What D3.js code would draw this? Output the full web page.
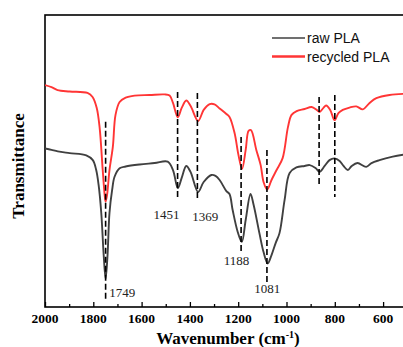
<!DOCTYPE html>
<html>
<head>
<meta charset="utf-8">
<script src="https://cdn.jsdelivr.net/npm/d3@7"></script>
<style>
    body { margin: 0; background: #fff; }
    svg { display: block; }
</style>
</head>
<body>
<div id="chart"></div>
<script>
// raw PLA spectrum (wavenumber, transmittance a.u.)
const rawWn = [2000, 1973, 1947, 1898, 1829, 1802, 1788, 1778, 1767, 1757, 1749, 1741, 1733, 1722, 1712, 1691,
    1666, 1608, 1546, 1492, 1470, 1450, 1434, 1415, 1397, 1366, 1343, 1311, 1294, 1277, 1249, 1236, 1223, 1202,
    1185, 1169, 1149, 1136, 1112, 1095, 1078, 1062, 1045, 1029, 1008, 987, 959, 925, 904, 880, 863, 842, 822,
    801, 780, 764, 746, 730, 706, 670, 648, 615, 560, 515];
const rawT = [54.3, 53.8, 53.3, 52.7, 51.9, 50.3, 46.9, 41.8, 32.2, 17.8, 9.6, 17.8, 32.2, 40.1, 44.6, 47.5,
    48.1, 48.8, 49.3, 49.8, 46.9, 40.7, 44.2, 48.3, 46.2, 39.4, 42.8, 45.2, 44.9, 43.5, 39.7, 38.7, 33.2, 25.7,
    22.3, 29.8, 38.7, 34.9, 25.2, 18.8, 14.9, 17.8, 21.9, 25.3, 36.6, 45.9, 47.8, 48.3, 48.6, 47.6, 46.3, 48.3, 50.3,
    50.9, 50.0, 48.3, 46.9, 48.3, 49.3, 48.0, 49.3, 50.3, 51.5, 52.2];

// recycled PLA spectrum
const recWn = [2000, 1973, 1948, 1898, 1824, 1803, 1786, 1774, 1761, 1753, 1749, 1743, 1733, 1719, 1708, 1691,
    1666, 1629, 1567, 1505, 1484, 1470, 1450, 1434, 1415, 1397, 1366, 1343, 1318, 1298, 1277, 1249, 1236, 1215,
    1199, 1184, 1169, 1157, 1147, 1125, 1107, 1095, 1080, 1062, 1041, 1016, 994, 979, 958, 925, 896, 875, 863,
    847, 836, 819, 801, 785, 767, 739, 711, 684, 656, 628, 573, 515];
const recT = [76.0, 75.3, 74.3, 73.8, 73.3, 71.9, 68.2, 61.6, 46.9, 38.4, 36.1, 38.4, 46.9, 54.9, 65.8, 70.2,
    71.7, 72.4, 72.6, 72.8, 72.4, 69.9, 65.0, 68.2, 70.7, 68.8, 63.7, 67.5, 69.5, 69.4, 68.0, 66.1, 65.1, 59.6,
    52.1, 47.3, 53.8, 60.3, 60.6, 53.8, 48.6, 42.8, 40.2, 43.5, 46.9, 51.0, 61.6, 65.8, 67.1, 67.8, 68.5, 67.5, 66.8,
    68.2, 69.0, 67.5, 64.0, 66.4, 67.5, 68.3, 68.7, 67.7, 69.9, 71.5, 72.6, 73.0];

// marked peaks (dashed guides)
const peakWn = [1749, 1451, 1369, 1188, 1081, 865, 800];
const peakTop = [63.4, 73.6, 73.3, 58.2, 53.8, 71.9, 72.6];
const peakBottom = [2.7, 37.7, 37.3, 18.2, 8.6, 41.8, 37.7];

// peak annotations
const labelText = ["1749", "1451", "1369", "1188", "1081"];
const labelWn = [1734, 1497, 1336, 1207, 1080];
const labelT = [3.4, 30.1, 29.5, 14.4, 4.8];
const labelAnchor = ["start", "middle", "middle", "middle", "middle"];

const xTicks = [2000, 1800, 1600, 1400, 1200, 1000, 800, 600];
const seriesNames = ["raw PLA", "recycled PLA"];
const seriesColors = ["#404040", "#ff3535"];

const W = 403, H = 347;
const margin = {left: 45, top: 15, bottom: 40};
const plotH = H - margin.top - margin.bottom;

const svg = d3.select("#chart").append("svg")
    .attr("width", W)
    .attr("height", H);

// x runs past the right edge of the window, like the cropped figure
const x = d3.scaleLinear()
    .domain([2000, 400])
    .range([margin.left, margin.left + 1600 * 0.2415]);
const y = d3.scaleLinear()
    .domain([0, 100])
    .range([margin.top + plotH, margin.top]);

const plot = svg.append("g");

//Frame
plot.append("rect")
    .attr("x", x(2000))
    .attr("y", y(100))
    .attr("width", x(400) - x(2000))
    .attr("height", y(0) - y(100))
    .attr("fill", "none")
    .attr("stroke", "black")
    .attr("stroke-width", 1.6);

//Bottom axis with inward ticks
const xAxis = plot.append("g")
    .attr("transform", "translate(0," + y(0) + ")")
    .call(d3.axisBottom(x).tickValues(d3.range(2000, 399, -100)).tickSize(-4).tickFormat(""));
xAxis.select(".domain").remove();
xAxis.selectAll(".tick line")
    .attr("stroke-width", 1.3)
    .attr("y2", function (d) { return d % 200 === 0 ? -5 : -3; });

plot.selectAll(".xlab")
    .data(xTicks)
    .enter().append("text")
    .attr("class", "xlab")
    .attr("x", d => x(d))
    .attr("y", y(0) + 16)
    .attr("text-anchor", "middle")
    .style("font-family", "'Liberation Serif', 'Times New Roman', serif")
    .style("font-weight", "bold")
    .style("font-size", "13.5px")
    .text(d => d);

//Axis titles
const xTitle = svg.append("text")
    .attr("x", 228)
    .attr("y", 344)
    .attr("text-anchor", "middle")
    .style("font-family", "'Liberation Serif', 'Times New Roman', serif")
    .style("font-weight", "bold")
    .style("font-size", "17px");
xTitle.append("tspan").text("Wavenumber (cm");
xTitle.append("tspan").attr("dy", -6).style("font-size", "10px").text("-1");
xTitle.append("tspan").attr("dy", 6).text(")");

svg.append("text")
    .attr("transform", "translate(24,166) rotate(-90)")
    .attr("text-anchor", "middle")
    .style("font-family", "'Liberation Serif', 'Times New Roman', serif")
    .style("font-weight", "bold")
    .style("font-size", "17px")
    .text("Transmittance");

//Spectra
const line = d3.line()
    .x(d => x(d[0]))
    .y(d => y(d[1]))
    .curve(d3.curveCatmullRom.alpha(0.5));

svg.append("clipPath").attr("id", "clip")
    .append("rect")
    .attr("x", x(2000)).attr("y", y(100))
    .attr("width", x(400) - x(2000)).attr("height", y(0) - y(100));

plot.append("path")
    .datum(d3.zip(rawWn, rawT))
    .attr("d", line)
    .attr("clip-path", "url(#clip)")
    .attr("fill", "none")
    .attr("stroke", seriesColors[0])
    .attr("stroke-width", 1.9);
plot.append("path")
    .datum(d3.zip(recWn, recT))
    .attr("d", line)
    .attr("clip-path", "url(#clip)")
    .attr("fill", "none")
    .attr("stroke", seriesColors[1])
    .attr("stroke-width", 1.9);

//Dashed peak guides
plot.selectAll(".peak")
    .data(peakWn)
    .enter().append("line")
    .attr("class", "peak")
    .attr("x1", d => x(d))
    .attr("x2", d => x(d))
    .attr("y1", (d, i) => y(peakTop[i]))
    .attr("y2", (d, i) => y(peakBottom[i]))
    .attr("stroke", "black")
    .attr("stroke-width", 1.6)
    .attr("stroke-dasharray", "6,3");

plot.selectAll(".peak-label")
    .data(labelText)
    .enter().append("text")
    .attr("class", "peak-label")
    .attr("x", (d, i) => x(labelWn[i]))
    .attr("y", (d, i) => y(labelT[i]))
    .attr("text-anchor", (d, i) => labelAnchor[i])
    .attr("fill", "#222")
    .style("font-family", "'Liberation Serif', 'Times New Roman', serif")
    .style("font-size", "13px")
    .text(d => d);

//Legend
const legend = svg.append("g").attr("transform", "translate(272,38)");
seriesNames.forEach(function (name, i) {
    legend.append("line")
        .attr("x1", 0).attr("x2", 33)
        .attr("y1", i * 18.5).attr("y2", i * 18.5)
        .attr("stroke", seriesColors[i])
        .attr("stroke-width", i ? 2.6 : 1.5);
    legend.append("text")
        .attr("x", 35)
        .attr("y", i * 18.5 + 5)
        .style("font-family", "'Liberation Sans', Arial, sans-serif")
        .style("font-size", "14px")
        .attr("fill", "#111")
        .text(name);
});
</script>
</body>
</html>
